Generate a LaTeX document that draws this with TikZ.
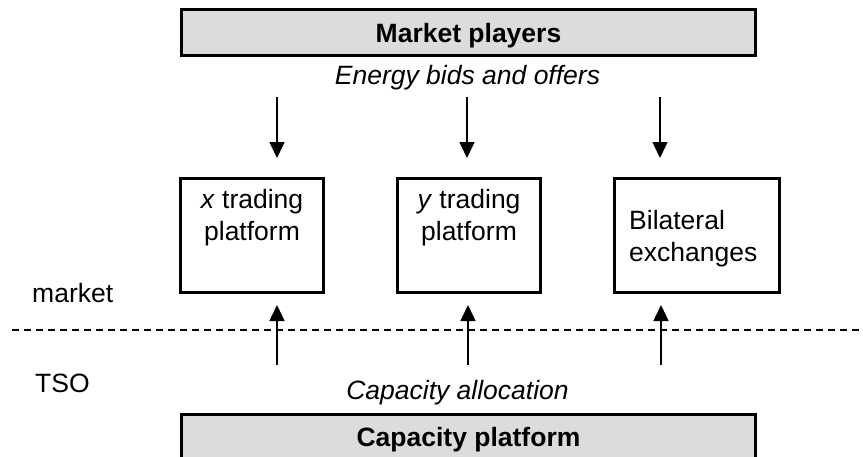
\documentclass[tikz,border=0pt]{standalone}
\usepackage{fontspec}
\setmainfont{Liberation Sans}
\usetikzlibrary{arrows.meta}
\definecolor{boxgray}{RGB}{220,220,220}
\begin{document}
\begin{tikzpicture}[x=1pt,y=-1pt,
  txt/.style={font=\fontsize{26.5}{30}\selectfont, inner sep=0pt},
  wide/.style={draw, line width=3pt, fill=boxgray, minimum width=574pt, minimum height=46pt,
     inner sep=0pt, text height=19pt, text depth=0pt, font=\fontsize{26.5}{30}\selectfont\bfseries},
  platbox/.style={draw, line width=3pt, minimum height=114pt, inner sep=0pt},
  arr/.style={line width=1.5pt, -{Triangle[length=16pt,width=15pt]}},
  sep/.style={line width=1.3pt, dash pattern=on 7pt off 5pt}]
\useasboundingbox (0,0) rectangle (863,456);
% top and bottom bars
\node[wide] (mp) at (468.5,32.5) {Market players};
\node[wide] (cp) at (468.5,437) {Capacity platform};
% labels
\node[txt, anchor=base] (ebo) at (467.5,84) {\itshape Energy bids and offers};
\node[txt, anchor=base] (ca) at (457.5,399) {\itshape Capacity allocation};
\node[txt, anchor=base west] (mk) at (32,302) {market};
\node[txt, anchor=base west] (tso) at (35,392) {TSO};
% platform boxes
\node[platbox, minimum width=143pt] (xb) at (252,235.5) {};
\node[platbox, minimum width=143pt] (yb) at (469,235.5) {};
\node[platbox, minimum width=165pt] (bb) at (697,235.5) {};
\node[txt, anchor=base] (xt1) at (252,208) {\textit{x} trading};
\node[txt, anchor=base] (xt2) at (252,240) {platform};
\node[txt, anchor=base] (yt1) at (469,208) {\textit{y} trading};
\node[txt, anchor=base] (yt2) at (469,240) {platform};
\node[txt, anchor=base west] (bt1) at (629,229) {Bilateral};
\node[txt, anchor=base west] (bt2) at (629,261) {exchanges};
% separator
\coordinate (sl) at (12,330);
\coordinate (sr) at (863,330);
\draw[sep] (sl) -- (sr);
% down arrows
\coordinate (d1s) at (277,97);  \coordinate (d1e) at (277,158);
\coordinate (d2s) at (467,97);  \coordinate (d2e) at (467,158);
\coordinate (d3s) at (660,97);  \coordinate (d3e) at (660,158);
\draw[arr] (d1s) -- (d1e);
\draw[arr] (d2s) -- (d2e);
\draw[arr] (d3s) -- (d3e);
% up arrows
\coordinate (u1s) at (277,365); \coordinate (u1e) at (277,305);
\coordinate (u2s) at (468,365); \coordinate (u2e) at (468,305);
\coordinate (u3s) at (661,365); \coordinate (u3e) at (661,305);
\draw[arr] (u1s) -- (u1e);
\draw[arr] (u2s) -- (u2e);
\draw[arr] (u3s) -- (u3e);
\end{tikzpicture}
\end{document}
